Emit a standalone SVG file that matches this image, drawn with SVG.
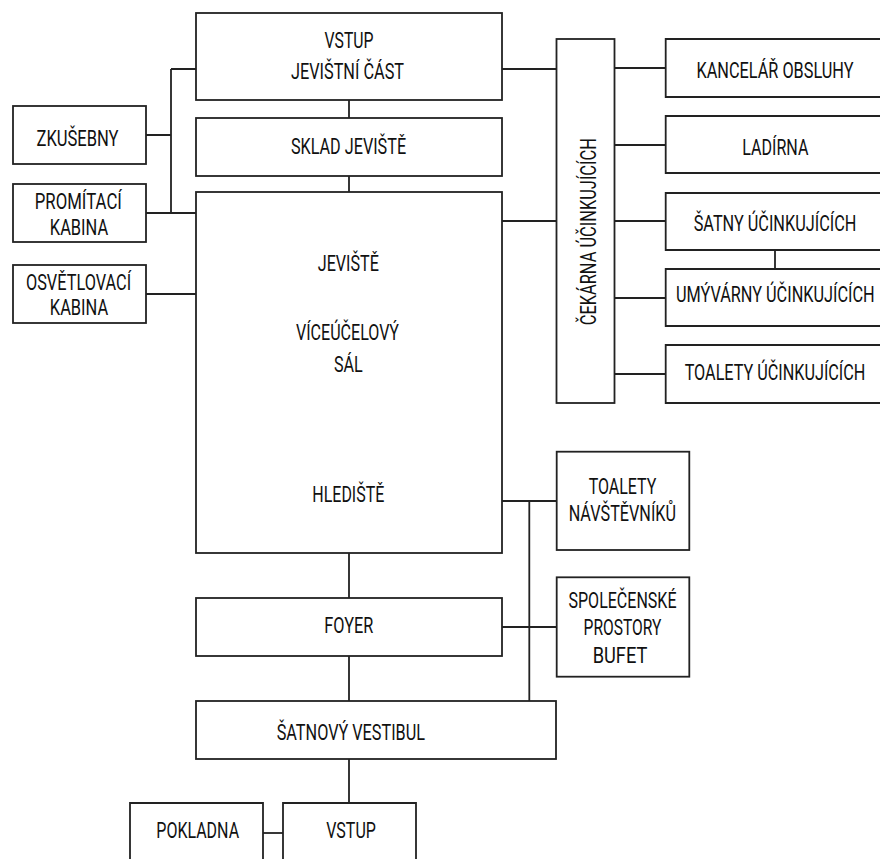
<svg xmlns="http://www.w3.org/2000/svg" width="880" height="859" viewBox="0 0 880 859">
<style>
rect,.open{fill:#fff;stroke:#222;stroke-width:1.8}
#connectors path{fill:none;stroke:#222;stroke-width:1.8}
text{font-family:Roboto,"Liberation Sans",sans-serif;font-size:22.5px;font-weight:400;fill:#111;text-anchor:middle}
</style>
<rect x="0" y="0" width="880" height="859" style="fill:#fff;stroke:none"/>
<g id="connectors">
<path d="M171 69H196M171 69V213M146 135H171M146 213H196M146 294H196"/>
<path d="M349 100V118M349 176V192M349 553V598M349 656V701M349 759V803"/>
<path d="M502 69H556.5M502 221H556.5"/>
<path d="M614.5 68H665.7M614.5 145H665.7M614.5 221H665.7M614.5 298H665.7M614.5 374H665.7"/>
<path d="M775 250V269"/>
<path d="M502 501H556.7M529.3 501V701M502 627H556.7"/>
<path d="M263 833H283"/>
</g>
<g id="vstup-jevistni"><rect x="196" y="13" width="306" height="87"/><text transform="translate(349 48) scale(.72 1)" textLength="68" lengthAdjust="spacingAndGlyphs">VSTUP</text><text transform="translate(347.5 79) scale(.72 1)" textLength="157" lengthAdjust="spacingAndGlyphs">JEVIŠTNÍ ČÁST</text></g>
<g id="sklad"><rect x="196" y="118" width="306" height="58"/><text transform="translate(348.5 154) scale(.72 1)" textLength="160" lengthAdjust="spacingAndGlyphs">SKLAD JEVIŠTĚ</text></g>
<g id="sal"><rect x="196" y="192" width="306" height="361"/>
<text transform="translate(348.3 271) scale(.72 1)" textLength="85" lengthAdjust="spacingAndGlyphs">JEVIŠTĚ</text>
<text transform="translate(347.5 340) scale(.72 1)" textLength="143" lengthAdjust="spacingAndGlyphs">VÍCEÚČELOVÝ</text>
<text transform="translate(348.3 371.7) scale(.72 1)" textLength="40" lengthAdjust="spacingAndGlyphs">SÁL</text>
<text transform="translate(348.3 501.7) scale(.72 1)" textLength="100" lengthAdjust="spacingAndGlyphs">HLEDIŠTĚ</text></g>
<g id="zkusebny"><rect x="13" y="106" width="133" height="58"/><text transform="translate(77.5 145.7) scale(.72 1)" textLength="114" lengthAdjust="spacingAndGlyphs">ZKUŠEBNY</text></g>
<g id="promitaci"><rect x="13" y="184" width="133" height="58"/><text transform="translate(78.3 209) scale(.72 1)" textLength="121" lengthAdjust="spacingAndGlyphs">PROMÍTACÍ</text><text transform="translate(79 235) scale(.72 1)" textLength="81" lengthAdjust="spacingAndGlyphs">KABINA</text></g>
<g id="osvetlovaci"><rect x="13" y="265" width="133" height="58"/><text transform="translate(78.5 290) scale(.72 1)" textLength="146" lengthAdjust="spacingAndGlyphs">OSVĚTLOVACÍ</text><text transform="translate(79 315) scale(.72 1)" textLength="81" lengthAdjust="spacingAndGlyphs">KABINA</text></g>
<g id="cekarna"><rect x="556.5" y="39" width="58" height="364"/><text transform="translate(596 231.7) rotate(-90) scale(.72 1)" textLength="260" lengthAdjust="spacingAndGlyphs">ČEKÁRNA ÚČINKUJÍCÍCH</text></g>
<g id="kancelar"><path class="open" d="M880 39H665.7V97H880"/><text transform="translate(775 78.3) scale(.72 1)" textLength="218" lengthAdjust="spacingAndGlyphs">KANCELÁŘ OBSLUHY</text></g>
<g id="ladirna"><path class="open" d="M880 116H665.7V173H880"/><text transform="translate(775.3 155) scale(.72 1)" textLength="92" lengthAdjust="spacingAndGlyphs">LADÍRNA</text></g>
<g id="satny"><path class="open" d="M880 193H665.7V250H880"/><text transform="translate(775 230.7) scale(.72 1)" textLength="226" lengthAdjust="spacingAndGlyphs">ŠATNY ÚČINKUJÍCÍCH</text></g>
<g id="umyvarny"><path class="open" d="M880 269H665.7V326H880"/><text transform="translate(775.3 301.7) scale(.72 1)" textLength="276" lengthAdjust="spacingAndGlyphs">UMÝVÁRNY ÚČINKUJÍCÍCH</text></g>
<g id="toalety-ucinkujicich"><path class="open" d="M880 345H665.7V403H880"/><text transform="translate(775 380) scale(.72 1)" textLength="251" lengthAdjust="spacingAndGlyphs">TOALETY ÚČINKUJÍCÍCH</text></g>
<g id="toalety-navstevniku"><rect x="556.7" y="451.7" width="132.6" height="98.3"/><text transform="translate(622.5 494) scale(.72 1)" textLength="94" lengthAdjust="spacingAndGlyphs">TOALETY</text><text transform="translate(622.3 520.7) scale(.72 1)" textLength="149" lengthAdjust="spacingAndGlyphs">NÁVŠTĚVNÍKŮ</text></g>
<g id="spolecenske"><rect x="556.7" y="577.3" width="132.6" height="99.4"/><text transform="translate(622.5 608.3) scale(.72 1)" textLength="150" lengthAdjust="spacingAndGlyphs">SPOLEČENSKÉ</text><text transform="translate(622.5 635) scale(.72 1)" textLength="108" lengthAdjust="spacingAndGlyphs">PROSTORY</text><text transform="translate(620 662.7) scale(.72 1)" textLength="76" lengthAdjust="spacingAndGlyphs">BUFET</text></g>
<g id="foyer"><rect x="196" y="598" width="306" height="58"/><text transform="translate(348.8 633.3) scale(.72 1)" textLength="68" lengthAdjust="spacingAndGlyphs">FOYER</text></g>
<g id="satnovy"><rect x="196" y="701" width="360" height="58"/><text transform="translate(350.8 740) scale(.72 1)" textLength="206" lengthAdjust="spacingAndGlyphs">ŠATNOVÝ VESTIBUL</text></g>
<g id="pokladna"><path class="open" d="M130 859V803H263V859"/><text transform="translate(197.7 838.3) scale(.72 1)" textLength="115" lengthAdjust="spacingAndGlyphs">POKLADNA</text></g>
<g id="vstup"><path class="open" d="M283 859V803H416V859"/><text transform="translate(351 838.3) scale(.72 1)" textLength="69" lengthAdjust="spacingAndGlyphs">VSTUP</text></g>
</svg>
